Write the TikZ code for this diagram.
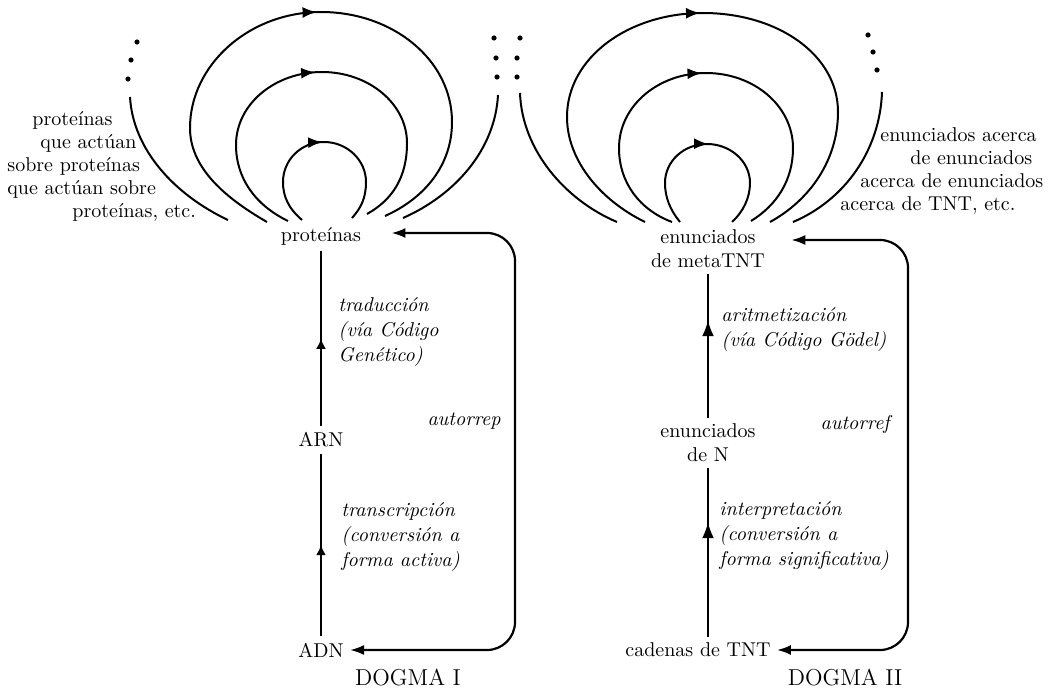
\documentclass[tikz,border=0pt]{standalone}
\usepackage{tikz}
\usetikzlibrary{arrows.meta, positioning, calc, decorations.markings}
\tikzset{
    termnode/.style={inner sep=3pt, align=center, font=\fontsize{10}{12}\selectfont},
    glosstext/.style={inner sep=0pt, align=left, anchor=west, font=\itshape\fontsize{10}{12.5}\selectfont},
    sidenote/.style={inner sep=0pt, align=left, anchor=west, font=\fontsize{10}{11.5}\selectfont},
    dogmalabel/.style={inner sep=0pt, font=\fontsize{11.5}{14}\selectfont},
    flowline/.style={line width=1.1pt},
    flowarrow/.style={postaction={decorate}, decoration={markings, mark=at position #1 with {\arrow{Latex[length=8pt,width=6pt]}}}},
    faintarrow/.style={postaction={decorate}, decoration={markings, mark=at position #1 with {\arrow{Latex[length=5pt,width=5pt]}}}},
    loopcurve/.style={line width=1pt, postaction={decorate}, decoration={markings, mark=at position 0.5 with {\arrow{Latex[length=7pt,width=5.5pt]}}}},
    opencurve/.style={line width=1pt},
    returnline/.style={line width=1.1pt, {Latex[length=7pt,width=5pt]}-{Latex[length=7pt,width=5pt]}, rounded corners=14pt},
}
\begin{document}
\begin{tikzpicture}[x=0.5pt, y=-0.5pt]
    \useasboundingbox (0,0) rectangle (1061,690);

    % Dogma I
    \node[termnode] (prot) at (321,236) {proteínas};
    \node[termnode] (arn) at (321,440) {ARN};
    \node[termnode] (adn) at (321,650) {ADN};

    \draw[flowline, faintarrow=0.5] (arn) -- (prot);
    \draw[flowline, faintarrow=0.5] (adn) -- (arn);

    \node[glosstext] (trad) at (338,332) {traducción\\(vía Código\\Genético)};
    \node[glosstext] (transc) at (341,537) {transcripción\\(conversión a\\forma activa)};

    \coordinate (selfL) at (515,421);
    \draw[returnline] ($(prot.east)+(24,-3)$) -| (selfL) |- (adn.east);
    \node[glosstext, left=7pt of selfL] (autorep) {autorrep};

    \draw[loopcurve] (302,220) .. controls (288,208) and (283,196) .. (283,182)
        .. controls (283,160) and (301,142) .. (324,142)
        .. controls (347,142) and (366,160) .. (366,182)
        .. controls (366,198) and (361,208) .. (352,218);
    \draw[loopcurve] (288,221) .. controls (255,205) and (236,178) .. (236,145)
        .. controls (236,104) and (275,72) .. (322,72)
        .. controls (369,72) and (407,104) .. (407,143)
        .. controls (407,178) and (392,200) .. (367,214);
    \draw[loopcurve] (267,222) .. controls (220,195) and (190,165) .. (190,128)
        .. controls (190,65) and (249,12) .. (321,12)
        .. controls (393,12) and (452,60) .. (452,122)
        .. controls (452,165) and (425,198) .. (385,216);
    \draw[opencurve] (130,97) .. controls (133,150) and (175,195) .. (228,220);
    \draw[opencurve] (498,95) .. controls (495,150) and (455,195) .. (403,218);
    \fill (137,42) circle[radius=1.3pt] (131,60) circle[radius=1.3pt] (128,79) circle[radius=1.3pt];
    \fill (494,38) circle[radius=1.3pt] (496,58) circle[radius=1.3pt] (497,77) circle[radius=1.3pt];

    \node[sidenote] (protnote) at (7,166) {\hspace*{12.5pt}proteínas\\\hspace*{16.5pt}que actúan\\sobre proteínas\\que actúan sobre\\\hspace*{32.5pt}proteínas, etc.};

    \node[dogmalabel] (dogmaI) at (408,678) {DOGMA I};

    % Dogma II
    \node[termnode] (meta) at (708,249) {enunciados\\de metaTNT};
    \node[termnode] (natn) at (708,443) {enunciados\\de N};
    \node[termnode] (tnt) at (698,650) {cadenas de TNT};

    \draw[flowline, flowarrow=0.68] (natn) -- (meta);
    \draw[flowline, flowarrow=0.68] (natn.south |- tnt.north) -- (natn.south);

    \node[glosstext] (arit) at (721,330) {aritmetización\\(vía Código Gödel)};
    \node[glosstext] (interp) at (719,536) {interpretación\\(conversión a\\forma significativa)};

    \coordinate (selfR) at (908,424);
    \draw[returnline] ($(meta.east)+(20,-9)$) -| (selfR) |- (tnt.east);
    \node[glosstext, left=9pt of selfR] (autoref) {autorref};

    \draw[loopcurve] (680,222) .. controls (670,210) and (665,197) .. (665,183)
        .. controls (665,161) and (684,144) .. (707,144)
        .. controls (730,144) and (750,161) .. (750,183)
        .. controls (750,198) and (743,212) .. (732,222);
    \draw[loopcurve] (672,222) .. controls (640,210) and (619,183) .. (619,148)
        .. controls (619,106) and (658,73) .. (706,73)
        .. controls (754,73) and (793,106) .. (793,148)
        .. controls (793,180) and (777,205) .. (751,221);
    \draw[loopcurve] (645,222) .. controls (600,200) and (567,160) .. (567,117)
        .. controls (567,58) and (628,13) .. (703,13)
        .. controls (778,13) and (838,55) .. (838,112)
        .. controls (838,160) and (810,200) .. (770,222);
    \draw[opencurve] (520,93) .. controls (522,150) and (565,200) .. (617,222);
    \draw[opencurve] (882,92) .. controls (880,150) and (845,200) .. (793,222);
    \fill (520,38) circle[radius=1.3pt] (517,58) circle[radius=1.3pt] (517,77) circle[radius=1.3pt];
    \fill (868,35) circle[radius=1.3pt] (873,52) circle[radius=1.3pt] (877,70) circle[radius=1.3pt];

    \node[sidenote] (metanote) at (840,171) {\hspace*{20pt}enunciados acerca\\\hspace*{35pt}de enunciados\\\hspace*{10pt}acerca de enunciados\\acerca de TNT, etc.};

    \node[dogmalabel] (dogmaII) at (845,678) {DOGMA II};
\end{tikzpicture}
\end{document}
